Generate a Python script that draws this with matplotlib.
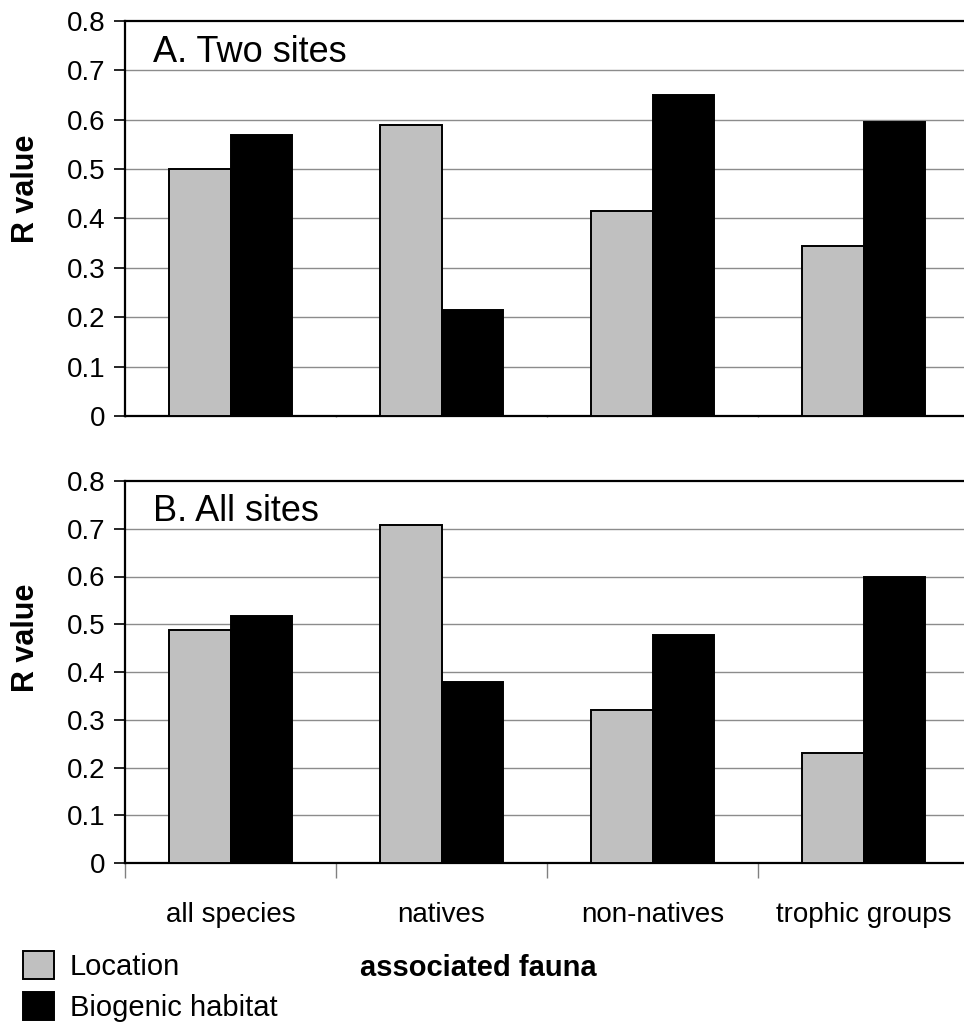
import matplotlib
matplotlib.use("Agg")
import matplotlib.pyplot as plt
import numpy as np

plt.rcParams['font.family'] = ['Liberation Sans', 'DejaVu Sans']

# data
categories = ["all species", "natives", "non-natives", "trophic groups"]
two_sites_location = [0.50, 0.59, 0.415, 0.345]
two_sites_biogenic = [0.57, 0.215, 0.65, 0.595]
all_sites_location = [0.487, 0.707, 0.32, 0.23]
all_sites_biogenic = [0.517, 0.38, 0.478, 0.60]
yticks = [0, 0.1, 0.2, 0.3, 0.4, 0.5, 0.6, 0.7, 0.8]
ytick_labels = ["0", "0.1", "0.2", "0.3", "0.4", "0.5", "0.6", "0.7", "0.8"]

W, H = 964, 1022
fig = plt.figure(figsize=(W / 100, H / 100), dpi=100)


def px_axes(left, top, right, bottom):
    return fig.add_axes([left / W, 1 - bottom / H, (right - left) / W, (bottom - top) / H])


def panel(ax, loc, bio, title, label_y, show_xticks):
    x = np.arange(len(categories))
    w = 0.292
    b1 = ax.bar(x - w / 2, loc, w, color="#c0c0c0", edgecolor="black", linewidth=1.4, zorder=3)
    b2 = ax.bar(x + w / 2, bio, w, color="black", edgecolor="black", linewidth=1.4, zorder=3)
    ax.set_xlim(-0.5, 3.5)
    ax.set_ylim(0, 0.8)
    ax.set_yticks(yticks)
    ax.set_yticklabels(ytick_labels, fontsize=20)
    ax.tick_params(axis="y", direction="out", length=8, width=1.2, pad=6, color="black")
    for y in yticks[1:-1]:
        ax.axhline(y, color="#8c8c8c", linewidth=1.0, zorder=1)
    for s in ["left", "top", "bottom"]:
        ax.spines[s].set_linewidth(1.6)
        ax.spines[s].set_color("black")
    ax.spines["right"].set_visible(False)
    ax.set_xticks([-0.5, 0.5, 1.5, 2.5])
    ax.set_xticklabels([])
    if show_xticks:
        ax.tick_params(axis="x", which="major", direction="out", length=11, width=1.0, color="#808080")
        ax.set_xticks(x, minor=True)
        ax.set_xticklabels(categories, minor=True, fontsize=20)
        ax.tick_params(axis="x", which="minor", length=0, pad=28)
    else:
        ax.tick_params(axis="x", which="major", length=1, width=1.0, color="#808080")
    ax.set_ylabel("R value", fontsize=22, fontweight="bold")
    ax.yaxis.set_label_coords(-0.100, label_y)
    ax.text(0.033, 0.92, title, transform=ax.transAxes, fontsize=26, va="center", ha="left")
    return b1, b2


ax1 = px_axes(125, 21, 969, 416)
panel(ax1, two_sites_location, two_sites_biogenic, "A. Two sites", 0.574, False)

ax2 = px_axes(125, 481, 969, 863)
b1, b2 = panel(ax2, all_sites_location, all_sites_biogenic, "B. All sites", 0.589, True)

fig.text(478 / W, 1 - 968 / H, "associated fauna", fontsize=21, fontweight="bold", ha="center", va="center")

fig.legend([b1, b2], ["Location", "Biogenic habitat"], loc="upper left",
           bbox_to_anchor=(23 / W, 1 - 951 / H), bbox_transform=fig.transFigure,
           frameon=False, fontsize=21, handlelength=1.05, handleheight=1.1,
           handletextpad=0.55, labelspacing=0.38, borderpad=0, borderaxespad=0)

fig.savefig("out.png", dpi=100)
